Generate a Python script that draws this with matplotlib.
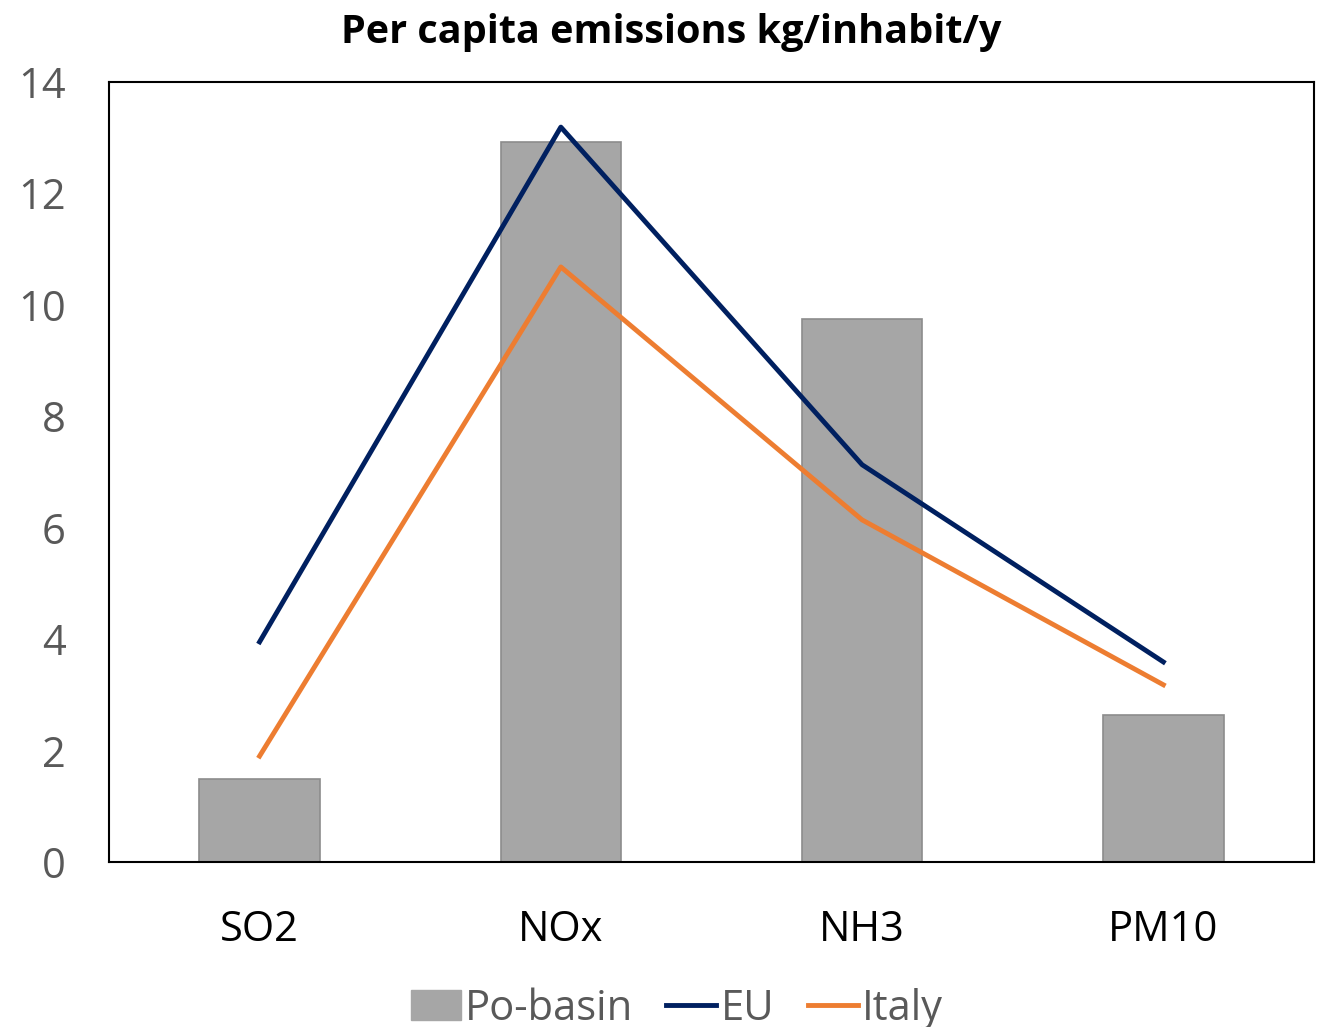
import numpy as np
import matplotlib.pyplot as plt
from matplotlib.lines import Line2D
from matplotlib.patches import Patch

# dati
categories = ["SO2", "NOx", "NH3", "PM10"]
po_basin = [1.49, 12.92, 9.75, 2.64]
eu = [3.95, 13.19, 7.13, 3.59]
italy = [1.90, 10.68, 6.14, 3.18]
y_ticks = [0, 2, 4, 6, 8, 10, 12, 14]

plt.rcParams['font.family'] = ['Open Sans', 'DejaVu Sans']

fig = plt.figure(figsize=(13.19, 10.27), dpi=100)
ax = fig.add_axes([0.0826, 0.1607, 0.9136, 0.7595])

x = np.arange(len(categories))
ax.bar(x, po_basin, width=0.4, color='#A6A6A6', edgecolor='#8C8C8C', linewidth=1.2, zorder=2)
ax.plot(x, eu, color='#002060', linewidth=3.5, zorder=3)
ax.plot(x, italy, color='#ED7D31', linewidth=3.5, zorder=3)

ax.set_xlim(-0.5, 3.5)
ax.set_ylim(0, 14)
ax.set_yticks(y_ticks)
ax.set_xticks(x)
ax.set_xticklabels(categories)
ax.tick_params(axis='y', length=0, labelsize=30, labelcolor='#595959', pad=31)
ax.tick_params(axis='x', length=0, labelsize=30, labelcolor='black', pad=34)
for s in ax.spines.values():
    s.set_linewidth(1.5)
    s.set_color('black')

fig.text(0.509, 0.968, "Per capita emissions kg/inhabit/y", ha='center', va='center',
         fontsize=28.5, fontweight='bold')

handles = [Patch(facecolor='#A6A6A6', edgecolor='#A6A6A6'),
           Line2D([0], [0], color='#002060', linewidth=3.5),
           Line2D([0], [0], color='#ED7D31', linewidth=3.5)]
leg = fig.legend(handles, ["Po-basin", "EU", "Italy"], loc='center', bbox_to_anchor=(0.513, 0.018),
                 ncol=3, frameon=False, fontsize=30, handlelength=1.2, handletextpad=0.1,
                 columnspacing=0.8)
for t in leg.get_texts():
    t.set_color('#595959')

fig.savefig("out.png", dpi=100)
